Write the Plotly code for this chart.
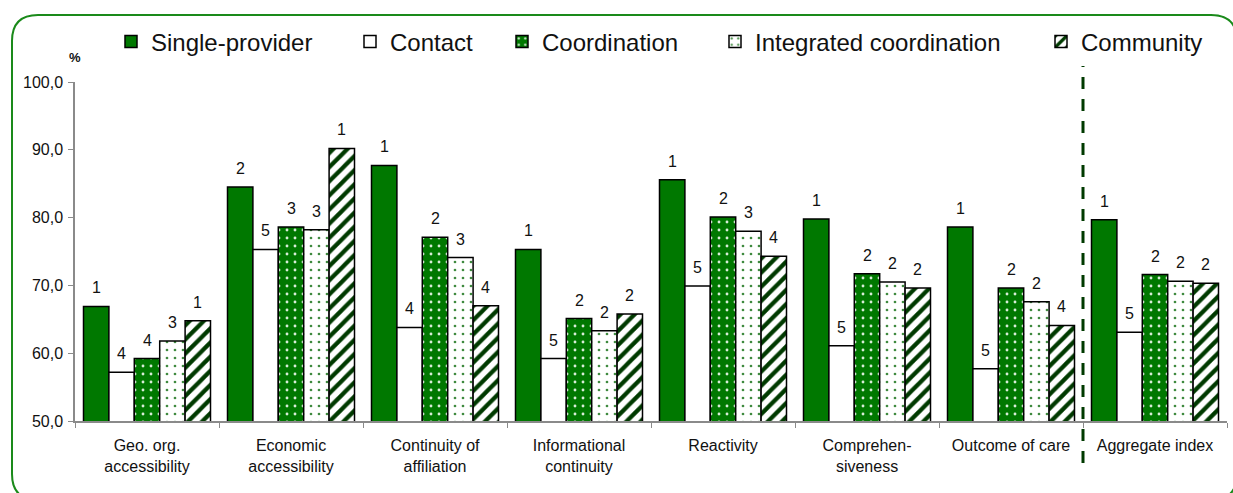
import plotly.graph_objects as go

categories = [
    "Geo. org.<br>accessibility",
    "Economic<br>accessibility",
    "Continuity of<br>affiliation",
    "Informational<br>continuity",
    "Reactivity",
    "Comprehen-<br>siveness",
    "Outcome of care",
    "Aggregate index",
]

single_provider = [66.9, 84.5, 87.7, 75.3, 85.6, 79.8, 78.6, 79.7]
contact = [57.2, 75.3, 63.8, 59.2, 69.9, 61.1, 57.7, 63.1]
coordination = [59.2, 78.6, 77.1, 65.1, 80.1, 71.7, 69.6, 71.6]
integrated = [61.8, 78.2, 74.1, 63.3, 78.0, 70.5, 67.6, 70.6]
community = [64.8, 90.2, 67.0, 65.8, 74.3, 69.6, 64.1, 70.3]

rank_single = [1, 2, 1, 1, 1, 1, 1, 1]
rank_contact = [4, 5, 4, 5, 5, 5, 5, 5]
rank_coord = [4, 3, 2, 2, 2, 2, 2, 2]
rank_integrated = [3, 3, 3, 2, 3, 2, 2, 2]
rank_community = [1, 1, 4, 2, 4, 2, 4, 2]

y_ticks = [50, 60, 70, 80, 90, 100]

GREEN = "#007800"
DARK = "#003a00"
FONT = "Liberation Sans, Arial, sans-serif"

# figure geometry (pixels)
W, H = 1233, 493
ML, MR, MT, MB = 75, 6, 82, 72
PW, PH = W - ML - MR, H - MT - MB
BARGAP = 0.118


def px_x(p):
    return (p - ML) / PW


def px_y(p):
    return (H - MB - p) / PH


series = [
    ("Single-provider", single_provider, rank_single,
     dict(color=GREEN)),
    ("Contact", contact, rank_contact,
     dict(color="white")),
    ("Coordination", coordination, rank_coord,
     dict(color=GREEN, pattern=dict(shape=".", fgcolor="#d8ecd8", bgcolor=GREEN,
                                    fillmode="replace", fgopacity=1,
                                    size=8, solidity=0.1))),
    ("Integrated coordination", integrated, rank_integrated,
     dict(color="white", pattern=dict(shape=".", fgcolor="#3f8a3f", bgcolor="white",
                                      fillmode="replace", fgopacity=1,
                                      size=8, solidity=0.09))),
    ("Community", community, rank_community,
     dict(color="white", pattern=dict(shape="/", fgcolor=DARK, bgcolor="white",
                                      fillmode="replace", fgopacity=1,
                                      size=10, solidity=0.42))),
]

# legend text start positions (px) for each entry
legend_text_x = [153, 392, 544, 757, 1083]
legend_keys = ["legend"] + [f"legend{i}" for i in range(2, len(series) + 1)]

fig = go.Figure()
for i, (name, vals, ranks, marker) in enumerate(series):
    fig.add_trace(go.Bar(
        name=name, x=categories, y=vals,
        marker=dict(**marker, line=dict(color="black", width=1.5)),
        legend=legend_keys[i], showlegend=True,
    ))

# rank labels above each bar
group_w = (PW / len(categories)) * (1 - BARGAP)
bar_w = group_w / len(series)
annotations = []
for i, (name, vals, ranks, marker) in enumerate(series):
    for c, v, r in zip(categories, vals, ranks):
        annotations.append(dict(
            x=c, y=v, xref="x", yref="y", text=str(r), showarrow=False,
            xshift=(i - 2) * bar_w, yshift=8, yanchor="bottom",
            font=dict(family=FONT, size=16, color="#111"),
        ))

annotations.append(dict(
    x=px_x(75), y=px_y(58), xref="paper", yref="paper", text="<b>%</b>",
    xanchor="center", yanchor="middle",
    showarrow=False, font=dict(family=FONT, size=13, color="#111"),
))

legends = {}
for key, tx in zip(legend_keys, legend_text_x):
    legends[key] = dict(
        x=px_x(tx - 42), y=px_y(42), xanchor="left", yanchor="middle",
        orientation="h", bgcolor="rgba(0,0,0,0)", borderwidth=0,
        font=dict(family=FONT, size=24, color="#111"), visible=True,
    )

# rounded green frame around the chart
L, T, R, B = 12, 15, 1237, 500
rx = 26
fx = px_x
fy = px_y
frame_path = (
    f"M {fx(L)},{fy(T + rx)} Q {fx(L)},{fy(T)} {fx(L + rx)},{fy(T)} "
    f"L {fx(R - rx)},{fy(T)} Q {fx(R)},{fy(T)} {fx(R)},{fy(T + rx)} "
    f"L {fx(R)},{fy(B - rx)} Q {fx(R)},{fy(B)} {fx(R - rx)},{fy(B)} "
    f"L {fx(L + rx)},{fy(B)} Q {fx(L)},{fy(B)} {fx(L)},{fy(B - rx)} Z"
)

shapes = [
    dict(type="path", xref="paper", yref="paper", path=frame_path,
         line=dict(color="#1a8a1a", width=2), layer="below"),
    # divider between the dimensions and the aggregate index
    dict(type="line", xref="x", yref="paper",
         x0=len(categories) - 1.5, x1=len(categories) - 1.5,
         y0=px_y(463), y1=px_y(66),
         line=dict(color=DARK, width=3, dash="12px,10px")),
]

fig.update_layout(
    width=W, height=H,
    margin=dict(l=ML, r=MR, t=MT, b=MB),
    paper_bgcolor="white", plot_bgcolor="white",
    barmode="group", bargap=BARGAP, bargroupgap=0,
    separators=", ",
    showlegend=True,
    font=dict(family=FONT, size=16, color="#111"),
    annotations=annotations,
    shapes=shapes,
    **legends,
)

fig.update_xaxes(
    type="category", showgrid=False, showline=True, linecolor="#8a8a8a", linewidth=1.5,
    ticks="outside", tickson="boundaries", ticklen=5, tickcolor="#8a8a8a",
    ticklabelstandoff=9, tickfont=dict(family=FONT, size=16, color="#111"),
)
fig.update_yaxes(
    range=[50, 100], tickvals=y_ticks, tickformat=".1f", showgrid=False,
    showline=True, linecolor="#8a8a8a", linewidth=1.5,
    ticks="outside", ticklen=5, tickcolor="#8a8a8a", ticklabelstandoff=2,
    tickfont=dict(family=FONT, size=16, color="#111"), zeroline=False,
)

fig.write_html("out.html")
